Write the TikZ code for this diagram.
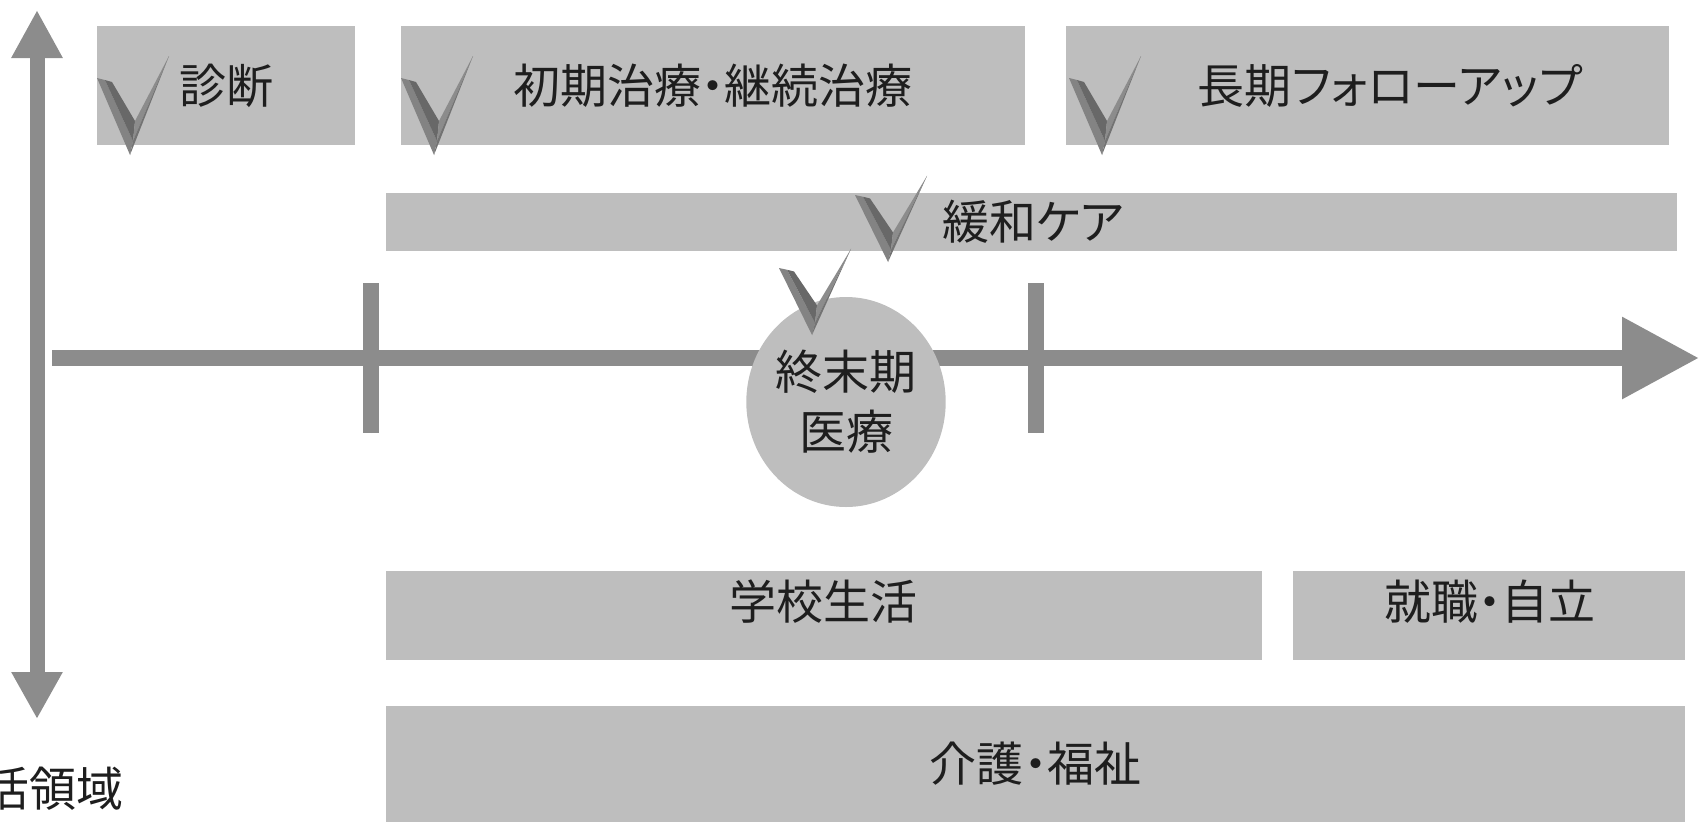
\documentclass[tikz,border=0pt]{standalone}
\usepackage{fontspec}
\newfontfamily\jpfont[RawFeature=+palt]{Noto Sans CJK JP}
\usetikzlibrary{arrows.meta,shapes.geometric}
\definecolor{boxgray}{HTML}{BEBEBE}
\definecolor{axisgray}{HTML}{8C8C8C}
\definecolor{txtcol}{HTML}{1E1E1E}
\definecolor{chkA}{HTML}{838383}
\definecolor{chkB}{HTML}{686868}
\definecolor{chkC}{HTML}{8C8C8C}
\definecolor{chkD}{HTML}{737373}
\tikzset{
  every node/.style={font=\jpfont\fontsize{47}{60}\selectfont, text=txtcol},
  graybox/.style={fill=boxgray, draw=none, inner sep=0pt},
  axisline/.style={draw=axisgray, fill=axisgray},
  chk/.pic={
    \coordinate (-A) at (-33,-77);
    \coordinate (-M) at (-25,-75);
    \coordinate (-B) at (-18,-73);
    \coordinate (-C) at (5,-34);
    \coordinate (-D) at (39,-99);
    \coordinate (-T) at (3,-14);
    \coordinate (-O) at (0,0);
    \fill[chkA] (-A) -- (-M) -- (-T) -- (-O) -- cycle;
    \fill[chkB] (-M) -- (-B) -- (-C) -- (-T) -- cycle;
    \fill[chkC] (-T) -- (-C) -- (-D) -- cycle;
    \fill[chkD] (-O) -- (-T) -- (-D) -- cycle;
  }
}
\begin{document}
\begin{tikzpicture}[x=1pt,y=-1pt]
\useasboundingbox (0,0) rectangle (1699,822);
\clip (0,0) rectangle (1699,822);

% vertical double arrow
\coordinate (vtop) at (37,10);
\coordinate (vbot) at (37,719);
\draw[axisline, line width=15pt, {Triangle[width=48pt,length=48pt]}-{Triangle[width=48pt,length=47pt]}] (vtop) -- (vbot);

% horizontal time axis
\coordinate (hstart) at (52,358);
\coordinate (hend) at (1699,358);
\draw[axisline, line width=16pt, -{Triangle[width=78pt,length=77pt]}] (hstart) -- (hend);

% ticks
\coordinate (t1a) at (371,283); \coordinate (t1b) at (371,433);
\coordinate (t2a) at (1036,283); \coordinate (t2b) at (1036,433);
\draw[axisline, line width=16pt] (t1a) -- (t1b);
\draw[axisline, line width=16pt] (t2a) -- (t2b);

% top boxes
\node[graybox, minimum width=258pt, minimum height=119pt] (diag) at (226,85.5) {診断};
\node[graybox, minimum width=624pt, minimum height=119pt] (init) at (713,85.5) {初期治療・継続治療};
\node[graybox, minimum width=603pt, minimum height=119pt] (long) at (1367.5,85.5) {};
\node (longtxt) at (1390,85.5) {長期フォローアップ};

% palliative
\node[graybox, minimum width=1291pt, minimum height=58pt] (pall) at (1031.5,222) {};
\node (palltxt) at (1033,222) {緩和ケア};

% end-of-life circle
\node[ellipse, fill=boxgray, minimum width=195pt, minimum height=210pt, inner sep=0pt, align=center] (term) at (846,402) {終末期\\医療};

% bottom boxes
\node[graybox, minimum width=876pt, minimum height=89pt] (school) at (824,615.5) {};
\node (schooltxt) at (823,602) {学校生活};
\node[graybox, minimum width=392pt, minimum height=89pt] (job) at (1489,615.5) {};
\node (jobtxt) at (1490,602) {就職・自立};
\node[graybox, minimum width=1299pt, minimum height=116pt] (care) at (1035.5,764) {介護・福祉};

% axis label (cut at the left edge)
\node[anchor=east, inner sep=0pt] (lifelbl) at (124,789) {生活領域};

% check marks
\pic (c1) at (130,155) {chk};
\pic (c2) at (434,155) {chk};
\pic (c3) at (1102,155) {chk};
\pic[yscale=0.87] (c4) at (888,262) {chk};
\pic[yscale=0.87] (c5) at (812,335) {chk};
\end{tikzpicture}
\end{document}
